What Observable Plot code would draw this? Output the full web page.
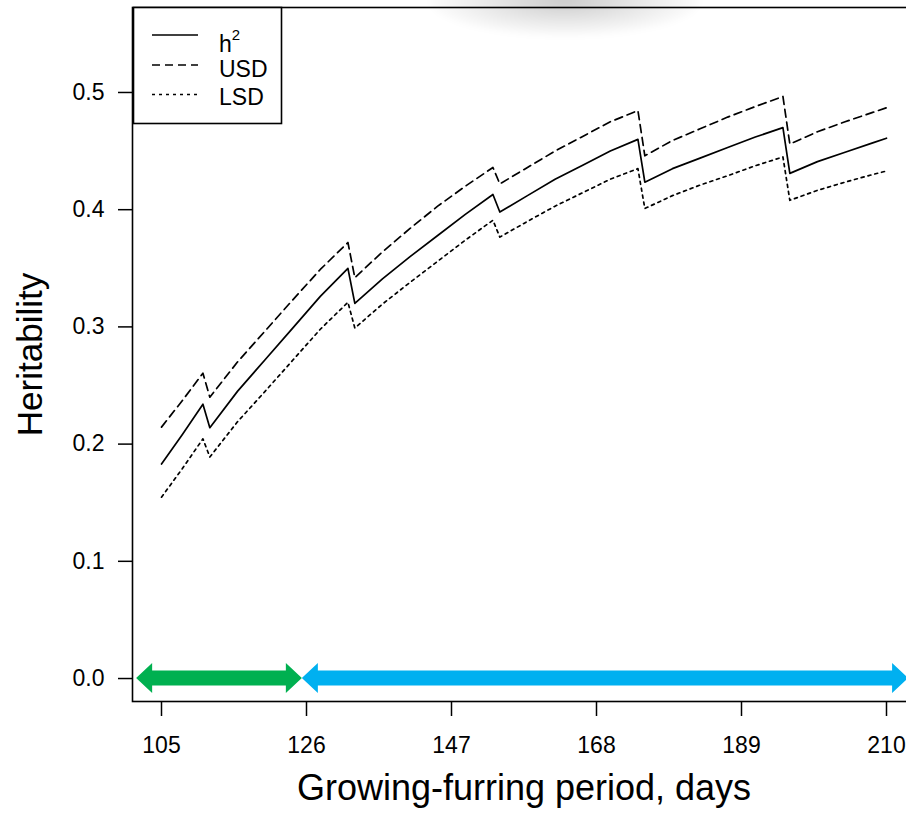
<!DOCTYPE html>
<html>
<head>
<meta charset="utf-8">
<script src="https://cdn.jsdelivr.net/npm/d3@7"></script>
<script src="https://cdn.jsdelivr.net/npm/@observablehq/plot@0.6"></script>
<style>
  html, body { margin: 0; padding: 0; background: #fff; overflow: hidden; }
  #wrap { position: relative; width: 906px; height: 823px; overflow: hidden;
          font-family: "Liberation Sans", Arial, sans-serif; }
  #wrap svg.overlay { position: absolute; left: 0; top: 0; pointer-events: none; }
  #haze { position: absolute; left: 430px; top: -34px; width: 270px; height: 70px; border-radius: 50%;
          background: radial-gradient(ellipse at center, rgba(0,0,0,0.20) 0%, rgba(0,0,0,0.08) 45%, rgba(0,0,0,0) 75%);
          filter: blur(3px); pointer-events: none; }
</style>
</head>
<body>
<div id="wrap"></div>
<script>
// Growing-furring period (days) and heritability estimates with upper / lower bounds
const days = [105, 108, 111, 112, 116, 120, 124, 128, 132, 133, 137, 141, 145, 149, 153,
              154, 158, 162, 166, 170, 174, 175, 179, 183, 187, 191, 195, 196, 200, 204, 208, 210];
const h2  = [0.183, 0.208, 0.234, 0.214, 0.245, 0.272, 0.299, 0.326, 0.350, 0.320, 0.341, 0.360, 0.378, 0.396, 0.413,
             0.398, 0.412, 0.426, 0.438, 0.450, 0.460, 0.4235, 0.435, 0.444, 0.453, 0.462, 0.470, 0.431, 0.441, 0.449, 0.457, 0.461];
const usd = [0.2145, 0.237, 0.2605, 0.240, 0.270, 0.2965, 0.323, 0.349, 0.372, 0.342, 0.364, 0.384, 0.403, 0.420, 0.436,
             0.422, 0.436, 0.450, 0.4625, 0.475, 0.4846, 0.446, 0.459, 0.469, 0.479, 0.488, 0.4966, 0.456, 0.4665, 0.475, 0.483, 0.487];
const lsd = [0.1547, 0.179, 0.2045, 0.189, 0.219, 0.245, 0.2715, 0.298, 0.321, 0.299, 0.3195, 0.338, 0.356, 0.374, 0.391,
             0.3766, 0.390, 0.403, 0.4145, 0.426, 0.435, 0.401, 0.412, 0.421, 0.429, 0.4375, 0.445, 0.408, 0.4165, 0.4235, 0.430, 0.433];

const xTicks = [105, 126, 147, 168, 189, 210];
const yTicks = [0, 0.1, 0.2, 0.3, 0.4, 0.5];

// Two periods marked along the zero line (days)
const periodStart = [101.4, 125.4];
const periodEnd   = [125.4, 213.2];
const periodColor = ["#00b050", "#00b0f0"];

const legendLabels = ["h", "USD", "LSD"];
const legendDash = [null, "8,5", "3,4"];

const rows = days.map((d, i) => ({day: d, h2: h2[i], usd: usd[i], lsd: lsd[i]}));

// double-headed block arrows drawn through the plot's scales
function periodArrows(index, scales) {
  const g = d3.create("svg:g");
  const y0 = scales.y(0);
  const half = 7.5, headHalf = 15, headLen = 16;
  periodStart.forEach((s, i) => {
    const a = scales.x(s), b = scales.x(periodEnd[i]);
    const pts = [[a, y0], [a + headLen, y0 - headHalf], [a + headLen, y0 - half], [b - headLen, y0 - half],
                 [b - headLen, y0 - headHalf], [b, y0], [b - headLen, y0 + headHalf], [b - headLen, y0 + half],
                 [a + headLen, y0 + half], [a + headLen, y0 + headHalf]];
    g.append("polygon").attr("points", pts.map(p => p.join(",")).join(" ")).attr("fill", periodColor[i]);
  });
  return g.node();
}

const font = "'Liberation Sans', Arial, sans-serif";
const chart = Plot.plot({
  width: 915,
  height: 823,
  marginLeft: 132,
  marginRight: 0,
  marginTop: 7,
  marginBottom: 122,
  style: {fontFamily: font, fontSize: "23px", color: "#000", background: "#fff", maxWidth: "none"},
  x: {domain: [100.8, 214.2]},
  y: {domain: [-0.0196, 0.5725]},
  marks: [
    periodArrows,
    Plot.line(rows, {x: "day", y: "h2", stroke: "#000", strokeWidth: 1.7}),
    Plot.line(rows, {x: "day", y: "usd", stroke: "#000", strokeWidth: 1.7, strokeDasharray: "8,5"}),
    Plot.line(rows, {x: "day", y: "lsd", stroke: "#000", strokeWidth: 1.7, strokeDasharray: "3,4"}),
    Plot.frame({stroke: "#000", strokeWidth: 1.6}),
    Plot.axisX({ticks: xTicks, tickSize: 15, tickPadding: 20, tickFormat: d => String(d), label: null, strokeWidth: 1.5}),
    Plot.axisY({ticks: yTicks, tickSize: 14, tickPadding: 14, tickFormat: d3.format(".1f"), label: null, strokeWidth: 1.5}),
    Plot.text(["Growing-furring period, days"], {frameAnchor: "bottom", dy: 98, fontSize: 36, text: d => d}),
    Plot.text(["Heritability"], {frameAnchor: "left", textAnchor: "middle", dx: -102, rotate: -90, fontSize: 35, text: d => d})
  ]
});

const wrap = document.getElementById("wrap");
wrap.appendChild(chart);

// legend box in the upper-left corner of the panel
const leg = d3.select(wrap).append("svg").attr("class", "overlay").attr("width", 906).attr("height", 823);
leg.append("rect").attr("x", 133.5).attr("y", 7.5).attr("width", 148).attr("height", 116)
  .attr("fill", "#fff").attr("stroke", "#000").attr("stroke-width", 1.6);
const rowY = [35, 65, 94.5];
const textY = [51.5, 76.5, 104.5];
legendLabels.forEach((lab, i) => {
  const ln = leg.append("line").attr("x1", 152).attr("x2", 198).attr("y1", rowY[i]).attr("y2", rowY[i])
    .attr("stroke", "#000").attr("stroke-width", 1.7);
  if (legendDash[i]) ln.attr("stroke-dasharray", legendDash[i]);
  const t = leg.append("text").attr("x", 219).attr("y", textY[i]).attr("font-family", font)
    .attr("font-size", 23).attr("fill", "#000").text(lab);
  if (i === 0) t.append("tspan").attr("font-size", 15).attr("dy", -12).text("2");
});

const haze = document.createElement("div");
haze.id = "haze";
wrap.appendChild(haze);
</script>
</body>
</html>
